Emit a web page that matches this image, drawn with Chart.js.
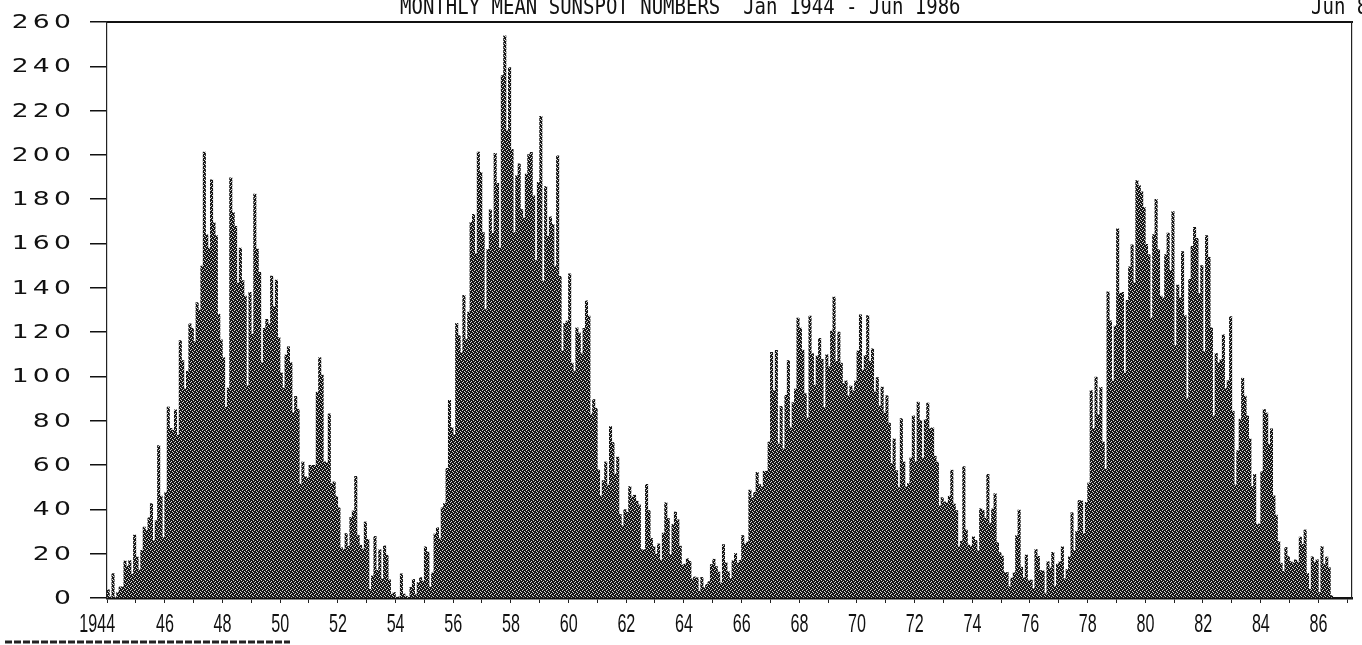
<!DOCTYPE html>
<html>
<head>
<meta charset="utf-8">
<script src="https://cdn.jsdelivr.net/npm/chart.js@4/dist/chart.umd.min.js"></script>
<style>
  html, body { margin: 0; padding: 0; background: #fff; }
  canvas { display: block; }
</style>
</head>
<body>
<canvas id="c" width="1362" height="645"></canvas>
<script>
// monthly mean sunspot numbers, Jan..Dec of each year
const ssn1944 = [3.7, 0.5, 11.0, 0.3, 2.5, 5.0, 5.0, 16.7, 14.3, 16.9, 10.8, 28.4];
const ssn1945 = [18.5, 12.7, 21.5, 32.0, 30.6, 36.2, 42.6, 25.9, 34.9, 68.8, 46.0, 27.4];
const ssn1946 = [47.6, 86.2, 76.6, 75.7, 84.9, 73.5, 116.2, 107.2, 94.4, 102.3, 123.8, 121.7];
const ssn1947 = [115.7, 133.4, 129.8, 149.8, 201.3, 163.9, 157.9, 188.8, 169.4, 163.6, 128.0, 116.5];
const ssn1948 = [108.5, 86.1, 94.8, 189.7, 174.0, 167.8, 142.2, 157.9, 143.3, 136.3, 95.8, 138.0];
const ssn1949 = [119.1, 182.3, 157.5, 147.0, 106.2, 121.7, 125.8, 123.8, 145.3, 131.6, 143.5, 117.6];
const ssn1950 = [101.6, 94.8, 109.7, 113.4, 106.2, 83.6, 91.0, 85.2, 51.3, 61.4, 54.8, 54.1];
const ssn1951 = [59.9, 59.9, 59.9, 92.9, 108.5, 100.6, 61.5, 61.0, 83.1, 51.6, 52.4, 45.8];
const ssn1952 = [40.7, 22.7, 22.0, 29.1, 23.4, 36.4, 39.3, 54.9, 28.2, 23.8, 22.1, 34.3];
const ssn1953 = [26.5, 3.9, 10.0, 27.8, 12.5, 21.8, 8.6, 23.5, 19.3, 8.2, 1.6, 2.5];
const ssn1954 = [0.2, 0.5, 10.9, 1.8, 0.8, 0.2, 4.8, 8.4, 1.5, 7.0, 9.2, 7.6];
const ssn1955 = [23.1, 20.8, 4.9, 11.3, 28.9, 31.7, 26.7, 40.7, 42.7, 58.5, 89.2, 76.9];
const ssn1956 = [73.6, 124.0, 118.4, 110.7, 136.6, 116.6, 129.1, 169.6, 173.2, 155.3, 201.3, 192.1];
const ssn1957 = [165.0, 130.2, 157.4, 175.2, 164.6, 200.7, 187.2, 158.0, 235.8, 253.8, 210.9, 239.4];
const ssn1958 = [202.5, 164.9, 190.7, 196.0, 175.3, 171.5, 191.4, 200.2, 201.2, 181.5, 152.3, 187.6];
const ssn1959 = [217.4, 143.1, 185.7, 163.3, 172.0, 168.7, 149.6, 199.6, 145.2, 111.4, 124.0, 125.0];
const ssn1960 = [146.3, 106.0, 102.2, 122.0, 119.6, 110.2, 121.7, 134.1, 127.2, 82.8, 89.6, 85.6];
const ssn1961 = [57.9, 46.1, 53.0, 61.4, 51.0, 77.4, 70.2, 55.8, 63.6, 37.7, 32.6, 39.9];
const ssn1962 = [38.7, 50.3, 45.6, 46.4, 43.7, 42.0, 21.8, 21.8, 51.3, 39.5, 26.9, 23.2];
const ssn1963 = [19.8, 24.4, 17.1, 29.3, 43.0, 35.9, 19.6, 33.2, 38.8, 35.3, 23.4, 14.9];
const ssn1964 = [15.3, 17.7, 16.5, 8.6, 9.5, 9.1, 3.1, 9.3, 4.7, 6.1, 7.4, 15.1];
const ssn1965 = [17.5, 14.2, 11.7, 6.8, 24.1, 15.9, 11.9, 8.9, 16.8, 20.1, 15.8, 17.0];
const ssn1966 = [28.2, 24.4, 25.3, 48.7, 45.3, 47.7, 56.7, 51.2, 50.2, 57.2, 57.2, 70.4];
const ssn1967 = [110.9, 93.6, 111.8, 69.5, 86.5, 67.3, 91.5, 107.2, 76.8, 88.2, 94.3, 126.4];
const ssn1968 = [121.8, 111.9, 92.2, 81.2, 127.2, 110.3, 96.1, 109.3, 117.2, 107.7, 86.0, 109.8];
const ssn1969 = [104.4, 120.5, 135.8, 106.8, 120.0, 106.0, 96.8, 98.0, 91.3, 95.7, 93.5, 97.9];
const ssn1970 = [111.5, 127.8, 102.9, 109.5, 127.5, 106.8, 112.5, 93.0, 99.5, 86.6, 95.2, 83.5];
const ssn1971 = [91.3, 79.0, 60.7, 71.8, 57.5, 49.8, 81.0, 61.4, 50.2, 51.7, 63.2, 82.2];
const ssn1972 = [61.5, 88.4, 80.1, 63.2, 80.5, 88.0, 76.5, 76.8, 64.0, 61.3, 41.6, 45.3];
const ssn1973 = [43.4, 42.9, 46.0, 57.7, 42.4, 39.5, 23.1, 25.6, 59.3, 30.7, 23.9, 23.3];
const ssn1974 = [27.6, 26.0, 21.3, 40.3, 39.5, 36.0, 55.8, 33.6, 40.2, 47.1, 25.0, 20.5];
const ssn1975 = [18.9, 11.5, 11.5, 5.1, 9.0, 11.4, 28.2, 39.7, 13.9, 9.1, 19.4, 7.8];
const ssn1976 = [8.1, 4.3, 21.9, 18.8, 12.4, 12.2, 1.9, 16.4, 13.5, 20.6, 5.2, 15.3];
const ssn1977 = [16.4, 23.1, 8.7, 12.9, 18.6, 38.5, 21.4, 30.1, 44.0, 43.8, 29.1, 43.2];
const ssn1978 = [51.9, 93.6, 76.5, 99.7, 82.7, 95.1, 70.4, 58.1, 138.2, 125.1, 97.9, 122.7];
const ssn1979 = [166.6, 137.5, 138.0, 101.5, 134.4, 149.5, 159.4, 142.2, 188.4, 186.2, 183.3, 176.3];
const ssn1980 = [159.6, 155.0, 126.2, 164.1, 179.9, 157.3, 136.3, 135.4, 155.0, 164.7, 147.9, 174.4];
const ssn1981 = [114.0, 141.3, 135.5, 156.4, 127.5, 90.0, 143.8, 158.7, 167.3, 162.4, 137.5, 150.1];
const ssn1982 = [111.2, 163.6, 153.8, 122.0, 82.2, 110.4, 106.1, 107.6, 118.8, 94.7, 98.1, 127.0];
const ssn1983 = [84.3, 51.0, 66.5, 80.7, 99.2, 91.1, 82.2, 71.8, 50.3, 55.8, 33.3, 33.4];
const ssn1984 = [57.0, 85.1, 83.5, 69.4, 76.4, 46.1, 37.4, 25.5, 15.7, 12.0, 22.8, 18.7];
const ssn1985 = [16.5, 15.9, 17.2, 16.2, 27.5, 24.2, 30.7, 11.1, 3.9, 18.6, 16.2, 17.3];
const ssn1986 = [2.5, 23.2, 15.1, 18.5, 13.7, 1.1];

const yTicks = [0, 20, 40, 60, 80, 100, 120, 140, 160, 180, 200, 220, 240, 260];
const xTickLabels = ['1944', '46', '48', '50', '52', '54', '56', '58', '60', '62', '64',
  '66', '68', '70', '72', '74', '76', '78', '80', '82', '84', '86'];
const titleText = 'MONTHLY MEAN SUNSPOT NUMBERS  Jan 1944 - Jun 1986';
const cornerText = 'Jun 86';

const startYear = 1944;
const axisMonths = 518; // axis runs on a few months past Jun 1986

const sunspots = [ssn1944, ssn1945, ssn1946, ssn1947, ssn1948, ssn1949, ssn1950, ssn1951,
  ssn1952, ssn1953, ssn1954, ssn1955, ssn1956, ssn1957, ssn1958, ssn1959, ssn1960, ssn1961,
  ssn1962, ssn1963, ssn1964, ssn1965, ssn1966, ssn1967, ssn1968, ssn1969, ssn1970, ssn1971,
  ssn1972, ssn1973, ssn1974, ssn1975, ssn1976, ssn1977, ssn1978, ssn1979, ssn1980, ssn1981,
  ssn1982, ssn1983, ssn1984, ssn1985, ssn1986].flat();

const months = [];
for (let i = 0; i < axisMonths; i++) {
  months.push((startYear + Math.floor(i / 12)) + '-' + String(i % 12 + 1).padStart(2, '0'));
}

const canvas = document.getElementById('c');
const ctx = canvas.getContext('2d');

// dithered dark fill, like the dot-matrix printout
function ditherFill() {
  const p = document.createElement('canvas');
  p.width = 4; p.height = 4;
  const g = p.getContext('2d');
  g.fillStyle = '#161616';
  g.fillRect(0, 0, 4, 4);
  g.fillStyle = '#d8d8d8';
  g.fillRect(1, 0, 1, 1);
  g.fillRect(3, 1, 1, 1);
  g.fillRect(2, 2, 1, 1);
  g.fillRect(0, 3, 1, 1);
  return ctx.createPattern(p, 'repeat');
}

const textPlugin = {
  id: 'printText',
  afterDraw(chart) {
    const c = chart.ctx;
    const y = chart.scales.y;
    const x = chart.scales.x;
    c.save();
    c.fillStyle = '#111';

    // wide plotter-style y labels
    c.font = "19px 'DejaVu Sans'";
    c.textAlign = 'right';
    c.textBaseline = 'middle';
    c.letterSpacing = '3px';
    yTicks.forEach(v => {
      c.save();
      c.translate(75, y.getPixelForValue(v) + 1);
      c.scale(1.4, 1);
      c.fillText(String(v), 0, 0);
      c.restore();
    });
    c.letterSpacing = '0px';

    // tall condensed year labels
    c.font = "26px 'Liberation Sans'";
    c.textBaseline = 'alphabetic';
    xTickLabels.forEach((lab, k) => {
      const px = x.getPixelForValue(k * 24);
      c.save();
      if (lab.length > 2) {
        c.textAlign = 'right';
        c.translate(px + 7, 632);
      } else {
        c.textAlign = 'center';
        c.translate(px - 1, 632);
      }
      c.scale(0.62, 1);
      c.fillText(lab, 0, 0);
      c.restore();
    });

    // title, partly off the top edge
    c.font = "19px 'DejaVu Sans Mono'";
    c.textAlign = 'left';
    [[titleText, 400], [cornerText, 1311]].forEach(([t, tx]) => {
      c.save();
      c.translate(tx, 14);
      c.scale(1, 1.25);
      c.fillText(t, 0, 0);
      c.restore();
    });

    // dashed rule bottom left
    c.strokeStyle = '#222';
    c.lineWidth = 3;
    c.setLineDash([7, 2]);
    c.beginPath();
    c.moveTo(5, 642);
    c.lineTo(290, 642);
    c.stroke();
    c.restore();
  }
};

new Chart(canvas, {
  type: 'bar',
  data: {
    labels: months,
    datasets: [{
      data: sunspots,
      backgroundColor: ditherFill(),
      borderWidth: 0,
      barPercentage: 1.0,
      categoryPercentage: 1.0
    }]
  },
  options: {
    responsive: false,
    animation: false,
    devicePixelRatio: 1,
    layout: { padding: { top: 22, right: 10, left: 0, bottom: 0 } },
    plugins: { legend: { display: false }, tooltip: { enabled: false } },
    scales: {
      x: {
        afterFit: s => { s.height = 47; },
        grid: {
          drawOnChartArea: false,
          offset: true,
          tickLength: 5,
          color: c => (c.index % 12 === 0 ? '#222' : 'rgba(0,0,0,0)'),
          lineWidth: 1
        },
        border: { color: '#111', width: 2.5 },
        ticks: { display: false }
      },
      xTop: {
        position: 'top',
        afterFit: s => { s.height = 0; },
        grid: { display: false },
        ticks: { display: false },
        border: { color: '#111', width: 2 }
      },
      y: {
        min: 0,
        max: 260,
        afterFit: s => { s.width = 107; },
        ticks: { stepSize: 20, display: false },
        grid: {
          drawOnChartArea: false,
          tickLength: 17,
          tickColor: '#111',
          lineWidth: 1.5
        },
        border: { color: '#222', width: 1.2, dash: [5, 2] }
      },
      yRight: {
        position: 'right',
        min: 0,
        max: 260,
        afterFit: s => { s.width = 0; },
        ticks: { display: false },
        grid: { display: false },
        border: { color: '#222', width: 1.2, dash: [4, 3] }
      }
    }
  },
  plugins: [textPlugin]
});
</script>
</body>
</html>
